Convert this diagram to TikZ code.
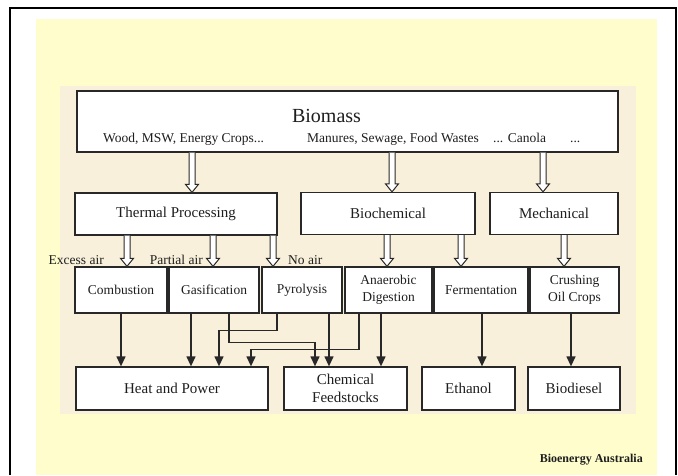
\documentclass[tikz,border=0pt]{standalone}
\usepackage{fontspec}
\setmainfont{Liberation Serif}
\usetikzlibrary{arrows.meta,calc}
\definecolor{bgyellow}{RGB}{255,253,204}
\definecolor{beige}{RGB}{249,240,219}
\definecolor{linec}{RGB}{40,40,40}
\definecolor{txt}{RGB}{30,30,30}
\begin{document}
\begin{tikzpicture}[x=1pt,y=-1pt,
  box/.style={draw=linec, fill=white, line width=1.3pt, inner sep=0pt, text=txt, align=center},
  lvtwo/.style={box, minimum height=42pt, font=\fontsize{15}{18}\selectfont},
  lvthree/.style={box, minimum height=46pt, font=\fontsize{13.5}{17}\selectfont},
  lvfour/.style={box, minimum height=43pt, font=\fontsize{15}{18}\selectfont},
  lbl/.style={text=txt, inner sep=0pt, font=\fontsize{13.5}{16}\selectfont},
  arr/.style={draw=linec, line width=1.3pt, -{Triangle[width=9pt,length=10pt]}},
  hollow/.style={draw=linec, fill=white, line width=1pt,
    to path={let \p1=(\tikztostart), \p2=(\tikztotarget) in
      (\x1-3pt,\y1) -- (\x1-3pt,\y2+8pt) -- (\x1-6.5pt,\y2+8pt) -- (\x1,\y2)
      -- (\x1+6.5pt,\y2+8pt) -- (\x1+3pt,\y2+8pt) -- (\x1+3pt,\y1)}}
]
\useasboundingbox (0,0) rectangle (678,475);
\fill[white] (0,0) rectangle (678,475);
\fill[bgyellow] (36,19) rectangle (657,475);
\fill[beige] (60,86) rectangle (636,414);
\draw[black, line width=2pt] (10,475) -- (10,8) -- (676,8) -- (676,475);

% x positions
\foreach \v in {121,127,191,192,213,219,229,251,273,277,315,329,359,381,387,392,461,482,543,564,571}
  \coordinate (x\v) at (\v,0);

% Biomass
\node[box, minimum width=541pt, minimum height=61pt] (biomass) at (347.5,121.5) {};
\node[text=txt, inner sep=0pt, font=\fontsize{20}{24}\selectfont, anchor=base] (btitle) at (326.5,122) {Biomass};
\node[lbl, anchor=base west] (wood) at (103,142) {Wood, MSW, Energy Crops...};
\node[lbl, anchor=base west] (manures) at (307,142) {Manures, Sewage, Food Wastes};
\node[lbl, anchor=base west] (canola) at (493,142) {... Canola};
\node[lbl, anchor=base west] (dots) at (570,142) {...};

% Level 2
\node[lvtwo, minimum width=202pt] (thermal) at (176,214) {Thermal Processing};
\node[lvtwo, minimum width=174pt] (biochem) at (388,213.5) {Biochemical};
\node[lvtwo, minimum width=128pt] (mech) at (554,213.5) {Mechanical};

% Level 3
\node[lvthree, minimum width=92pt] (comb) at (121,290) {Combustion};
\node[lvthree, minimum width=90pt] (gas) at (214,290) {Gasification};
\node[lvthree, minimum width=80pt] (pyro) at (302,290) {Pyrolysis};
\node[lvthree, minimum width=87pt] (anaer) at (388.5,290) {Anaerobic\\Digestion};
\node[lvthree, minimum width=94pt] (ferm) at (481,290) {Fermentation};
\node[lvthree, minimum width=89pt] (crush) at (574.5,290) {Crushing\\Oil Crops};

% Level 4
\node[lvfour, minimum width=192pt] (heat) at (172,388.5) {Heat and Power};
\node[lvfour, minimum width=123pt] (chem) at (345.5,388.5) {Chemical\\Feedstocks};
\node[lvfour, minimum width=93pt] (eth) at (468.5,388.5) {Ethanol};
\node[lvfour, minimum width=92pt] (biod) at (574,388.5) {Biodiesel};

% air labels
\node[lbl, anchor=base east] (excess) at (104,264) {Excess air};
\node[lbl, anchor=base east] (partial) at (203,264) {Partial air};
\node[lbl, anchor=base west] (noair) at (288,264) {No air};

% hollow arrows
\draw[hollow] (biomass.south -| x192) to (thermal.north -| x192);
\draw[hollow] (biomass.south -| x392) to (biochem.north -| x392);
\draw[hollow] (biomass.south -| x543) to (mech.north -| x543);
\draw[hollow] (thermal.south -| x127) to (comb.north -| x127);
\draw[hollow] (thermal.south -| x213) to (gas.north -| x213);
\draw[hollow] (thermal.south -| x273) to (pyro.north -| x273);
\draw[hollow] (biochem.south -| x387) to (anaer.north -| x387);
\draw[hollow] (biochem.south -| x461) to (ferm.north -| x461);
\draw[hollow] (mech.south -| x564) to (crush.north -| x564);

% solid arrows
\draw[arr] (comb.south -| x121) -- (heat.north -| x121);
\draw[arr] (gas.south -| x191) -- (heat.north -| x191);
\draw[arr] (pyro.south -| x277) -- ++(0,17) -| (heat.north -| x219);
\draw[arr] (gas.south -| x229) -- ++(0,29) -| (chem.north -| x315);
\draw[arr] (pyro.south -| x329) -- (chem.north -| x329);
\draw[arr] (anaer.south -| x359) -- ++(0,36) -| (heat.north -| x251);
\draw[arr] (anaer.south -| x381) -- (chem.north -| x381);
\draw[arr] (ferm.south -| x482) -- (eth.north -| x482);
\draw[arr] (crush.south -| x571) -- (biod.north -| x571);

% credit
\node[text=txt, inner sep=0pt, font=\fontsize{12}{14}\bfseries, anchor=base east] (credit) at (643,462) {Bioenergy Australia};
\end{tikzpicture}
\end{document}
